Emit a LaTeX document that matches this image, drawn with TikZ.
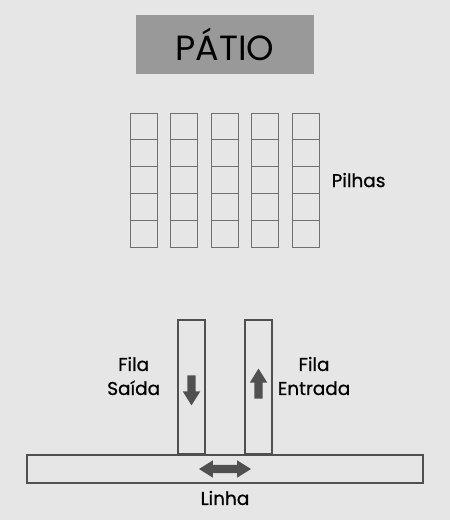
\documentclass[tikz,border=0pt]{standalone}
\usepackage{fontspec}
\setmainfont{Poppins}[FakeBold=0.8]
\newfontfamily\titlefont{Poppins}
\usetikzlibrary{shapes.arrows,positioning}
\definecolor{bggray}{HTML}{E6E6E6}
\definecolor{titlegray}{HTML}{999999}
\definecolor{darkgray}{HTML}{505050}
\definecolor{cellgray}{HTML}{707070}
\newcommand\cellw{27pt}
\newcommand\cellh{26.8pt}
\newcommand\colsep{40.5}
\newcommand\rowsep{26.8}

\begin{document}
\begin{tikzpicture}[
    x=1pt,y=-1pt,
    cell/.style={draw=cellgray,line width=0.9pt,minimum width=\cellw,
      minimum height=\cellh,inner sep=0pt},
    queue/.style={draw=darkgray,line width=1.3pt,fill=bggray,
      minimum width=27pt,minimum height=134pt,inner sep=0pt},
    lbl/.style={font=\fontsize{18.5}{24}\selectfont,align=center,inner sep=0pt},
    fatarr/.style={single arrow,fill=darkgray,inner sep=4pt,
      minimum height=30pt,single arrow head extend=4.5pt,
      single arrow tip angle=64},
    dblarr/.style={double arrow,fill=darkgray,inner sep=4pt,
      minimum height=52pt,double arrow head extend=4.5pt,
      double arrow tip angle=64}
  ]
    \fill[bggray] (0,0) rectangle (450,520);
    \useasboundingbox (0,0) rectangle (450,520);

    \node[fill=titlegray,minimum width=178pt,minimum height=59pt,
      font=\titlefont\fontsize{35}{40}\selectfont] (patio) at (225,44.5) {PÁTIO};

    \foreach \c in {0,...,4}
      \foreach \r in {0,...,4}
        \node[cell] (p\c\r) at (143.5+\colsep*\c,126.5+\rowsep*\r) {};

    \node[lbl,right=12pt of p42] (pilhas) {Pilhas};

    \node[draw=darkgray,line width=1.3pt,minimum width=396pt,
      minimum height=28pt,inner sep=0pt] (linha) at (225,469) {};
    \node[queue] (saida) at (191.5,387) {};
    \node[queue] (entrada) at (258.5,387) {};

    \node[fatarr,rotate=-90] (down) at (191.5,387) {};
    \node[fatarr,rotate=90] (up) at (258.5,387) {};
    \node[dblarr] (lr) at (225,469) {};

    \node[lbl,left=17pt of saida,yshift=11pt] (lsaida) {Fila\\Saída};
    \node[lbl,right=5pt of entrada,yshift=11pt] (lentrada) {Fila\\Entrada};
    \node[lbl,below=7pt of linha] (llinha) {Linha};
  \end{tikzpicture}
\end{document}
